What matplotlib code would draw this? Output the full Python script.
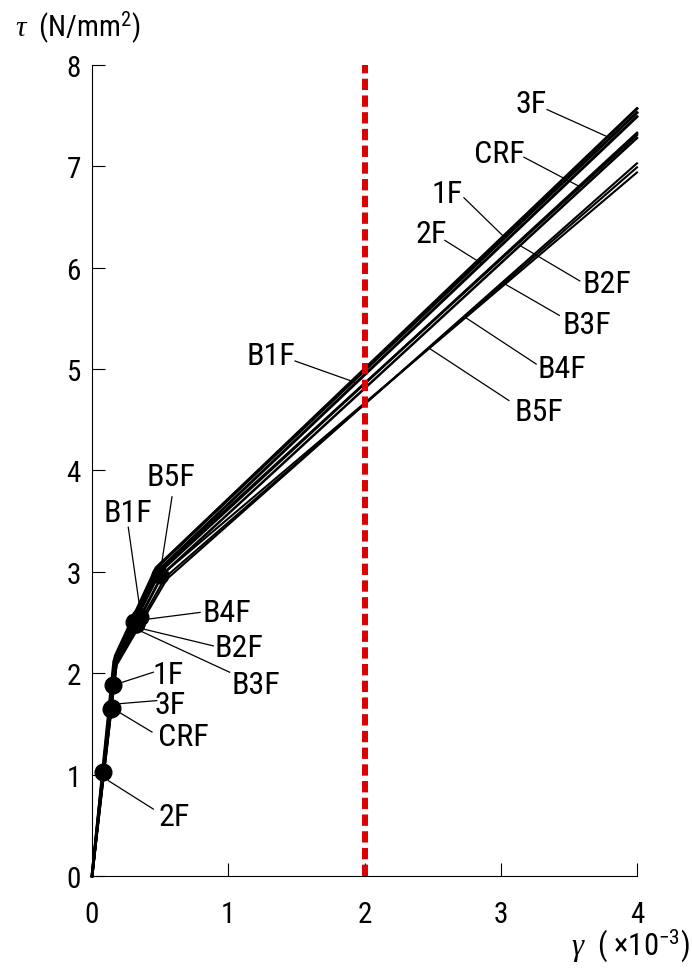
import matplotlib
matplotlib.use("Agg")
import matplotlib.pyplot as plt
import numpy as np

plt.rcParams['font.family'] = ['Roboto Condensed', 'Roboto', 'DejaVu Sans']
plt.rcParams['mathtext.fontset'] = 'custom'
plt.rcParams['mathtext.rm'] = 'Roboto Condensed'
plt.rcParams['mathtext.it'] = 'Liberation Serif:italic'

# specimens and their tau-gamma polylines (gamma in 1e-3, tau in N/mm2)
names = ['3F', '1F', '2F', 'CRF', 'B1F', 'B2F', 'B3F', 'B4F', 'B5F']
g1 = [0.17, 0.17, 0.16, 0.17, 0.17, 0.18, 0.18, 0.18, 0.17]
t1 = [2.15, 2.17, 2.12, 2.12, 2.14, 2.10, 2.08, 2.10, 2.10]
g2 = [0.48, 0.47, 0.49, 0.50, 0.50, 0.52, 0.55, 0.54, 0.52]
t2 = [3.05, 3.04, 3.02, 3.00, 3.02, 2.98, 2.93, 2.95, 2.98]
t_end = [7.57, 7.53, 7.49, 7.33, 7.31, 7.28, 7.03, 6.99, 6.94]
g_end = 4.0
lws = [2.1, 2.1, 2.1, 1.8, 1.8, 1.8, 1.5, 1.5, 1.5]

# marked points on each curve
mark_g = [0.145, 0.157, 0.083, 0.140, 0.31, 0.32, 0.32, 0.35, 0.50]
mark_t = [1.66, 1.88, 1.03, 1.65, 2.51, 2.49, 2.49, 2.55, 2.97]

# labels: (text, text x, text y, leader start, leader end)
lab_txt = ['B5F', 'B1F', 'B4F', 'B2F', 'B3F', '1F', '3F', 'CRF', '2F',
           '3F', 'CRF', '1F', '2F', 'B2F', 'B3F', 'B4F', 'B5F', 'B1F']
lab_x = [0.58, 0.26, 0.99, 1.08, 1.20, 0.56, 0.57, 0.67, 0.60,
         3.22, 2.99, 2.61, 2.49, 3.78, 3.63, 3.45, 3.28, 1.31]
lab_y = [3.94, 3.59, 2.60, 2.25, 1.89, 1.99, 1.69, 1.38, 0.59,
         7.62, 7.13, 6.73, 6.34, 5.84, 5.44, 5.01, 4.58, 5.13]
lead_x0 = [0.587, 0.266, 0.793, 0.89, 1.01, 0.45, 0.475, 0.44, 0.45,
           3.34, 3.17, 2.73, 2.59, 3.58, 3.43, 3.26, 3.06, 1.49]
lead_y0 = [3.74, 3.44, 2.60, 2.27, 2.01, 2.01, 1.73, 1.42, 0.66,
           7.56, 7.09, 6.69, 6.27, 5.87, 5.53, 5.05, 4.69, 5.08]
lead_x1 = [0.50, 0.352, 0.389, 0.365, 0.35, 0.22, 0.205, 0.205, 0.12,
           3.77, 3.58, 3.02, 2.85, 3.14, 3.03, 2.74, 2.47, 1.93]
lead_y1 = [2.99, 2.63, 2.53, 2.44, 2.42, 1.91, 1.70, 1.61, 0.94,
           7.30, 6.80, 6.31, 6.05, 6.22, 5.84, 5.51, 5.21, 4.87]

fig = plt.figure(figsize=(6.92, 9.79), dpi=100)
ax = fig.add_axes([0.133, 0.1042, 0.7875, 0.8284])

for i in range(len(names)):
    ax.plot([0, g1[i], g2[i], g_end], [0, t1[i], t2[i], t_end[i]],
            color='black', lw=lws[i], solid_joinstyle='miter', clip_on=False, zorder=3)
    ax.plot(mark_g[i], mark_t[i], 'o', color='black', ms=12, clip_on=False, zorder=4)

# red dashed line at gamma = 2
ax.plot([2, 2], [0, 8], color='#dd0000', lw=4.3, dashes=(1.9, 0.9), zorder=5, clip_on=False)

for i in range(len(lab_txt)):
    ax.plot([lead_x0[i], lead_x1[i]], [lead_y0[i], lead_y1[i]], color='black', lw=0.9, zorder=2, clip_on=False)
    ax.text(lab_x[i], lab_y[i], lab_txt[i], fontsize=23, ha='center', va='center', clip_on=False)

ax.set_xlim(0, 4)
ax.set_ylim(0, 8)
ax.set_xticks([0, 1, 2, 3, 4])
ax.set_yticks(range(0, 9))
ax.spines['top'].set_visible(False)
ax.spines['right'].set_visible(False)
ax.tick_params(direction='in', length=9.5, width=0.8, labelsize=21)
ax.tick_params(axis='y', pad=8)
ax.tick_params(axis='x', pad=17)

fig.text(0.022, 0.971, r'$\tau$  (N/mm$^2$)', fontsize=21, ha='left', va='center')
fig.text(0.997, 0.034, r'$\gamma$  ( ×10$^{-3}$)', fontsize=22, ha='right', va='center')

fig.savefig('out.png', dpi=100)
